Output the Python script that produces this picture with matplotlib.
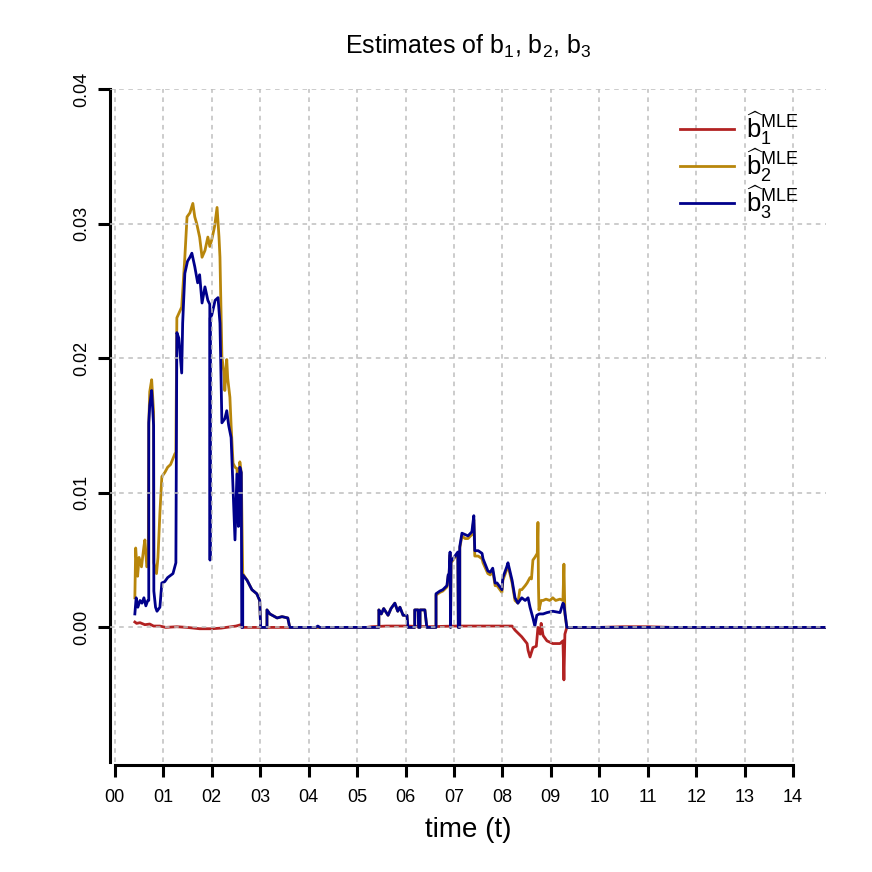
import matplotlib
matplotlib.use("Agg")
import matplotlib.pyplot as plt
import numpy as np

plt.rcParams['font.family'] = ['Liberation Sans', 'DejaVu Sans']
plt.rcParams['mathtext.fontset'] = 'custom'
plt.rcParams['mathtext.rm'] = 'Liberation Sans'
plt.rcParams['mathtext.it'] = 'Liberation Sans:italic'

# b3 (blue)
t_b3 = [0.413, 0.44, 0.475, 0.52, 0.56, 0.60, 0.64, 0.68, 0.70, 0.70, 0.72, 0.76, 0.80, 0.805,
        0.84, 0.87, 0.93, 0.97, 1.03, 1.09, 1.20, 1.26, 1.28, 1.32, 1.38, 1.40, 1.445, 1.50,
        1.55, 1.59, 1.65, 1.71, 1.75, 1.80, 1.86, 1.92, 1.96, 1.965, 1.97, 2.00, 2.07, 2.13,
        2.17, 2.21, 2.27, 2.31, 2.35, 2.40, 2.44, 2.48, 2.52, 2.55, 2.58, 2.61, 2.62, 2.64,
        2.64, 2.73, 2.83, 2.93, 2.99, 3.01, 3.14, 3.14, 3.20, 3.35, 3.45, 3.57, 3.61, 4.15,
        4.19, 4.23, 5.45, 5.45, 5.50, 5.55, 5.64, 5.70, 5.78, 5.84, 5.885, 5.95, 6.03, 6.05,
        6.19, 6.19, 6.26, 6.27, 6.30, 6.30, 6.40, 6.44, 6.63, 6.63, 6.71, 6.77, 6.855, 6.88,
        6.90, 6.92, 6.93, 6.94, 6.98, 7.04, 7.08, 7.09, 7.12, 7.12, 7.165, 7.23, 7.29, 7.37,
        7.41, 7.43, 7.50, 7.58, 7.60, 7.70, 7.75, 7.80, 7.85, 7.89, 7.99, 8.01, 8.09, 8.115,
        8.20, 8.26, 8.32, 8.40, 8.47, 8.53, 8.57, 8.63, 8.67, 8.71, 8.76, 8.84, 8.92, 9.04,
        9.19, 9.25, 9.27, 9.33, 14.68]
b3 = [0.0010, 0.0022, 0.0015, 0.0020, 0.0018, 0.0022, 0.0016, 0.0020, 0.0020, 0.0152, 0.0165,
      0.0176, 0.0150, 0.0027, 0.0015, 0.0012, 0.0015, 0.0033, 0.0034, 0.0037, 0.0040, 0.0048,
      0.0219, 0.0215, 0.0189, 0.0226, 0.0263, 0.0272, 0.0275, 0.0278, 0.0268, 0.0256, 0.0262,
      0.0241, 0.0253, 0.0243, 0.0240, 0.0050, 0.0230, 0.0232, 0.0243, 0.0245, 0.0226, 0.0152,
      0.0155, 0.0161, 0.0150, 0.0141, 0.0102, 0.0065, 0.0114, 0.0075, 0.0119, 0.0115, 0.0,
      0.0, 0.0039, 0.0035, 0.0028, 0.0025, 0.0020, 0.0, 0.0, 0.0013, 0.0010, 0.0007, 0.0008,
      0.0007, 0.0, 0.0, 0.0001, 0.0, 0.0, 0.0013, 0.0010, 0.0014, 0.0009, 0.0014, 0.0018,
      0.0012, 0.0015, 0.0009, 0.0009, 0.0, 0.0, 0.0013, 0.0013, 0.0, 0.0, 0.0013, 0.0013,
      0.0, 0.0, 0.0025, 0.0027, 0.0028, 0.0031, 0.0039, 0.0040, 0.0056, 0.0, 0.0049, 0.0051,
      0.0054, 0.0056, 0.0, 0.0, 0.0060, 0.0070, 0.0069, 0.0068, 0.0071, 0.0083, 0.0057,
      0.0057, 0.0055, 0.0051, 0.0042, 0.0041, 0.0044, 0.0033, 0.0033, 0.0028, 0.0037, 0.0045,
      0.0048, 0.0035, 0.0022, 0.0018, 0.0022, 0.0020, 0.0022, 0.0015, 0.0007, 0.0001, 0.0009,
      0.0010, 0.0010, 0.0011, 0.0012, 0.0011, 0.0018, 0.0017, 0.0, 0.0]

# b2 (gold)
t_b2 = [0.413, 0.43, 0.47, 0.50, 0.55, 0.60, 0.62, 0.66, 0.69, 0.70, 0.72, 0.76, 0.80, 0.805,
        0.86, 0.89, 0.93, 0.97, 1.03, 1.09, 1.15, 1.24, 1.26, 1.28, 1.38, 1.42, 1.445, 1.49,
        1.55, 1.61, 1.65, 1.69, 1.75, 1.80, 1.86, 1.92, 1.96, 2.00, 2.06, 2.11, 2.15, 2.17,
        2.21, 2.25, 2.27, 2.31, 2.33, 2.375, 2.40, 2.44, 2.48, 2.52, 2.55, 2.58, 2.61, 2.64,
        2.73, 2.83, 2.93, 2.99, 3.01, 3.14, 3.14, 3.20, 3.35, 3.45, 3.57, 3.61, 5.45, 5.45,
        5.50, 5.55, 5.64, 5.70, 5.78, 5.84, 5.885, 5.95, 6.03, 6.05, 6.19, 6.19, 6.26, 6.27,
        6.30, 6.30, 6.40, 6.44, 6.63, 6.63, 6.71, 6.77, 6.855, 6.88, 6.90, 6.92, 6.93, 6.94,
        6.98, 7.04, 7.08, 7.09, 7.12, 7.12, 7.165, 7.23, 7.29, 7.37, 7.41, 7.43, 7.50, 7.58,
        7.60, 7.70, 7.75, 7.80, 7.85, 7.89, 7.99, 8.01, 8.09, 8.115, 8.20, 8.26, 8.32, 8.36,
        8.40, 8.47, 8.51, 8.57, 8.60, 8.63, 8.67, 8.72, 8.734, 8.745, 8.755, 8.80, 8.84, 8.90,
        8.98, 9.04, 9.10, 9.19, 9.25, 9.27, 9.29, 9.33, 14.68]
b2 = [0.0022, 0.0059, 0.0038, 0.0052, 0.0045, 0.0060, 0.0065, 0.0045, 0.0047, 0.0150, 0.0175,
      0.0184, 0.0160, 0.0048, 0.0040, 0.0052, 0.0085, 0.0112, 0.0115, 0.0119, 0.0121, 0.0129,
      0.0130, 0.0230, 0.0238, 0.0260, 0.0275, 0.0305, 0.0308, 0.0315, 0.0305, 0.0300, 0.0290,
      0.0275, 0.0280, 0.0290, 0.0283, 0.0288, 0.0298, 0.0312, 0.0290, 0.0275, 0.0201, 0.0190,
      0.0176, 0.0199, 0.0185, 0.0171, 0.0150, 0.0122, 0.0119, 0.0118, 0.0100, 0.0123, 0.0115,
      0.0040, 0.0035, 0.0028, 0.0025, 0.0020, 0.0, 0.0, 0.0013, 0.0010, 0.0007, 0.0008,
      0.0007, 0.0, 0.0, 0.0013, 0.0010, 0.0014, 0.0009, 0.0014, 0.0018, 0.0012, 0.0015,
      0.0009, 0.0009, 0.0, 0.0, 0.0013, 0.0013, 0.0, 0.0, 0.0013, 0.0013, 0.0, 0.0, 0.0024,
      0.0026, 0.0027, 0.0030, 0.0038, 0.0039, 0.0054, 0.0, 0.0048, 0.0050, 0.0053, 0.0055,
      0.0, 0.0, 0.0059, 0.0068, 0.0066, 0.0066, 0.0069, 0.0080, 0.0053, 0.0053, 0.0051,
      0.0048, 0.0040, 0.0039, 0.0042, 0.0031, 0.0031, 0.0026, 0.0035, 0.0043, 0.0046, 0.0033,
      0.0020, 0.0018, 0.0028, 0.0028, 0.0031, 0.0033, 0.0037, 0.0036, 0.0050, 0.0052, 0.0055,
      0.0078, 0.0030, 0.0013, 0.0020, 0.0020, 0.0021, 0.0020, 0.0022, 0.0020, 0.0021, 0.0020,
      0.0047, 0.0010, 0.0, 0.0]

# b1 (red)
t_b1 = [0.413, 0.45, 0.52, 0.62, 0.72, 0.80, 0.93, 1.05, 1.28, 1.49, 1.75, 2.00, 2.20, 2.50,
        2.60, 2.62, 3.50, 5.20, 5.30, 5.60, 6.00, 6.50, 7.00, 7.50, 8.00, 8.20, 8.26, 8.40,
        8.51, 8.53, 8.57, 8.63, 8.70, 8.734, 8.78, 8.80, 8.84, 8.92, 9.04, 9.19, 9.25, 9.27,
        9.29, 9.33, 10.0, 10.5, 11.0, 11.5, 14.68]
b1 = [0.0004, 0.0003, 0.00035, 0.0002, 0.00025, 0.0001, 0.0001, 0.0, 0.00005, 0.0, -0.0001,
      -0.0001, -0.00005, 0.0001, 0.0002, 0.0, 0.0, 0.0, 0.00005, 0.0001, 0.0001, 0.00005,
      0.0001, 0.0001, 0.0001, 0.0001, -0.0002, -0.0007, -0.0012, -0.0017, -0.0022, -0.0015,
      -0.0014, 0.0, -0.0005, 0.0003, -0.0006, -0.0010, -0.0012, -0.0012, -0.0010, -0.0039,
      -0.0005, 0.0, 0.0, 0.00005, 0.00005, 0.0, 0.0]

x_ticks = list(range(15))
x_labels = ["%02d" % i for i in x_ticks]
y_ticks = [0.00, 0.01, 0.02, 0.03, 0.04]

fig = plt.figure(figsize=(8.72, 8.72), dpi=100)
ax = fig.add_axes([110 / 872, 1 - 762 / 872, (826 - 110) / 872, (762 - 89) / 872])

ax.plot(t_b1, b1, color="#B22222", lw=2, label=r"$\widehat{\mathrm{b}}_1^{\mathrm{MLE}}$", zorder=2)
ax.plot(t_b2, b2, color="#B8860B", lw=2, label=r"$\widehat{\mathrm{b}}_2^{\mathrm{MLE}}$", zorder=2)
ax.plot(t_b3, b3, color="#00008B", lw=2, label=r"$\widehat{\mathrm{b}}_3^{\mathrm{MLE}}$", zorder=3)

ax.set_xlim(-0.1, 14.68)
ax.set_ylim(-0.01, 0.04)

# grid on top of lines, like R's grid()
for x in x_ticks:
    ax.axvline(x, color="#BEBEBE", lw=1.1, ls=(0, (3, 3)), zorder=4)
for y in y_ticks:
    ax.axhline(y, color="#BEBEBE", lw=1.1, ls=(0, (3, 3)), zorder=4)

ax.spines['top'].set_visible(False)
ax.spines['right'].set_visible(False)
ax.spines['left'].set_linewidth(2.2)
ax.spines['bottom'].set_linewidth(2.2)
ax.spines['bottom'].set_bounds(0, 14)
ax.spines['bottom'].set_position(('outward', 2))

ax.set_xticks(x_ticks)
ax.set_xticklabels(x_labels)
ax.set_yticks(y_ticks)
ax.set_yticklabels(["%.2f" % v for v in y_ticks], rotation=90, va="center")
ax.tick_params(axis="both", direction="out", length=8.5, width=2.2, labelsize=13)
ax.tick_params(axis="x", pad=9)
ax.tick_params(axis="y", pad=6)

ax.set_title(r"Estimates of b$_1$, b$_2$, b$_3$", fontsize=18, pad=25)
ax.set_xlabel("time (t)", fontsize=20, labelpad=8)

ax.legend(loc="upper right", bbox_to_anchor=(0.995, 1.005), frameon=False, fontsize=18.5,
          handlelength=2.1, labelspacing=-0.02, handletextpad=0.5)

fig.savefig("out.png", dpi=100)
